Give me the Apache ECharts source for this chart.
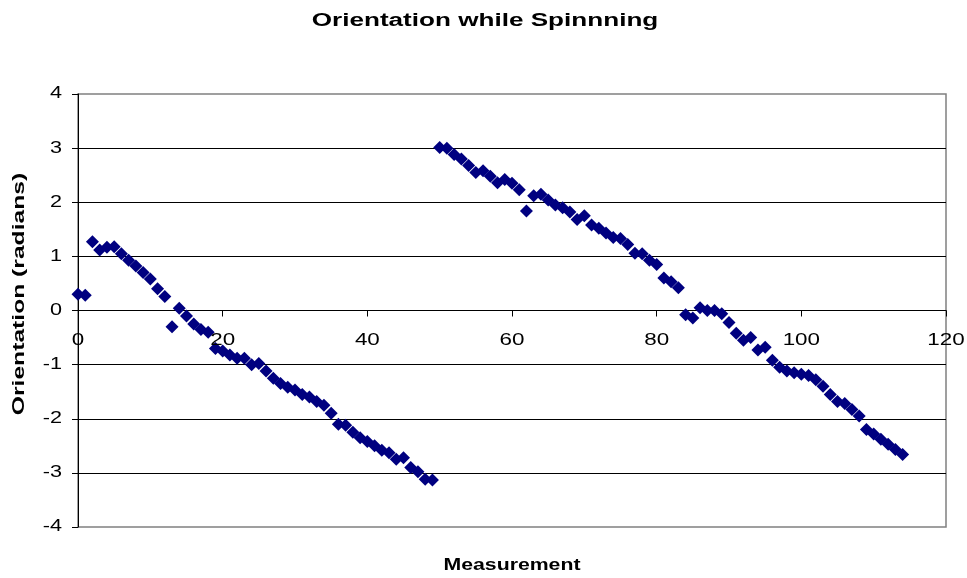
<!DOCTYPE html>
<html>
<head>
<meta charset="utf-8">
<script src="https://cdn.jsdelivr.net/npm/echarts@6/dist/echarts.min.js"></script>
<style>
  html, body { margin: 0; padding: 0; background: #fff; }
  #chart { width: 967px; height: 578px; }
</style>
</head>
<body>
<div id="chart"></div>
<script>
// Orientation readings (radians) for each measurement index
const measurements = [
  0, 1, 2, 3, 4, 5, 6, 7, 8, 9,
  10, 11, 12, 13, 14, 15, 16, 17, 18, 19,
  20, 21, 22, 23, 24, 25, 26, 27, 28, 29,
  30, 31, 32, 33, 34, 35, 36, 37, 38, 39,
  40, 41, 42, 43, 44, 45, 46, 47, 48, 49,
  50, 51, 52, 53, 54, 55, 56, 57, 58, 59,
  60, 61, 62, 63, 64, 65, 66, 67, 68, 69,
  70, 71, 72, 73, 74, 75, 76, 77, 78, 79,
  80, 81, 82, 83, 84, 85, 86, 87, 88, 89,
  90, 91, 92, 93, 94, 95, 96, 97, 98, 99,
  100, 101, 102, 103, 104, 105, 106, 107, 108, 109,
  110, 111, 112, 113, 114
];
const orientation = [
  0.30, 0.28, 1.27, 1.12, 1.17, 1.18, 1.05, 0.93, 0.82, 0.70,
  0.58, 0.40, 0.26, -0.30, 0.04, -0.10, -0.25, -0.35, -0.40, -0.70,
  -0.75, -0.82, -0.88, -0.88, -1.00, -0.98, -1.12, -1.25, -1.35, -1.42,
  -1.47, -1.55, -1.60, -1.68, -1.75, -1.90, -2.10, -2.12, -2.25, -2.35,
  -2.42, -2.50, -2.58, -2.63, -2.75, -2.72, -2.90, -2.98, -3.12, -3.13,
  3.01, 3.00, 2.88, 2.80, 2.68, 2.55, 2.58, 2.48, 2.36, 2.42,
  2.35, 2.23, 1.84, 2.12, 2.15, 2.04, 1.95, 1.90, 1.82, 1.68,
  1.75, 1.58, 1.52, 1.43, 1.35, 1.33, 1.22, 1.06, 1.05, 0.93,
  0.85, 0.60, 0.53, 0.42, -0.08, -0.14, 0.05, 0.00, 0.00, -0.06,
  -0.22, -0.42, -0.55, -0.50, -0.73, -0.68, -0.92, -1.05, -1.12, -1.15,
  -1.18, -1.20, -1.28, -1.40, -1.55, -1.68, -1.72, -1.83, -1.95, -2.20,
  -2.28, -2.38, -2.47, -2.57, -2.66
];

// Axis tick values
const xTicks = [0, 20, 40, 60, 80, 100, 120];
const yTicks = [-4, -3, -2, -1, 0, 1, 2, 3, 4];

const chartTitle = 'Orientation while Spinnning';
const xTitle = 'Measurement';
const yTitle = 'Orientation (radians)';

const points = measurements.map((m, i) => [m, orientation[i]]);
const font = 'Arial, "Liberation Sans", sans-serif';

const chart = echarts.init(document.getElementById('chart'), null, { renderer: 'canvas' });
chart.setOption({
  backgroundColor: '#ffffff',
  animation: false,
  grid: {
    left: 78, right: 21, top: 94, bottom: 51,
    show: true,
    backgroundColor: '#ffffff',
    borderColor: '#808080',
    borderWidth: 1.5
  },
  xAxis: {
    type: 'value',
    min: xTicks[0], max: xTicks[xTicks.length - 1], interval: 20,
    axisLine: { show: true, onZero: true, lineStyle: { color: '#000', width: 1 } },
    axisTick: { show: true, inside: false, length: 6, lineStyle: { color: '#000' } },
    axisLabel: { show: false },
    splitLine: { show: false }
  },
  yAxis: {
    type: 'value',
    min: yTicks[0], max: yTicks[yTicks.length - 1], interval: 1,
    axisLine: { show: true, onZero: false, lineStyle: { color: '#000', width: 1 } },
    axisTick: { show: true, inside: false, length: 6, lineStyle: { color: '#000' } },
    axisLabel: { show: false },
    splitLine: { show: true, showMinLine: false, showMaxLine: false, lineStyle: { color: '#000', width: 1 } }
  },
  series: [{
    type: 'scatter',
    data: points,
    symbol: 'diamond',
    symbolSize: 13,
    itemStyle: { color: '#000080', opacity: 1 },
    emphasis: { disabled: true }
  }]
});

// Text is set in a horizontally widened face, so each label carries a scaleX.
const labels = [];
xTicks.forEach(v => {
  const px = chart.convertToPixel({ xAxisIndex: 0 }, v);
  const py = chart.convertToPixel({ yAxisIndex: 0 }, 0);
  labels.push({
    type: 'text', x: px, y: py + 30, scaleX: 1.4, z: 10, silent: true,
    style: { text: String(v), font: '16px ' + font, fill: '#000', textAlign: 'center', textVerticalAlign: 'middle' }
  });
});
yTicks.forEach(v => {
  const px = chart.convertToPixel({ xAxisIndex: 0 }, 0);
  const py = chart.convertToPixel({ yAxisIndex: 0 }, v);
  labels.push({
    type: 'text', x: px - 16, y: py, scaleX: 1.35, z: 10, silent: true,
    style: { text: String(v), font: '16px ' + font, fill: '#000', textAlign: 'right', textVerticalAlign: 'middle' }
  });
});
labels.push({
  type: 'text', x: 485, y: 21, scaleX: 1.45, z: 10, silent: true,
  style: { text: chartTitle, font: 'bold 18px ' + font, fill: '#000', textAlign: 'center', textVerticalAlign: 'middle' }
});
labels.push({
  type: 'text', x: 512, y: 565, scaleX: 1.25, z: 10, silent: true,
  style: { text: xTitle, font: 'bold 17px ' + font, fill: '#000', textAlign: 'center', textVerticalAlign: 'middle' }
});
labels.push({
  type: 'text', x: 19, y: 294, rotation: Math.PI / 2, scaleX: 1.45, z: 10, silent: true,
  style: { text: yTitle, font: 'bold 17px ' + font, fill: '#000', textAlign: 'center', textVerticalAlign: 'middle' }
});
chart.setOption({ graphic: labels });
</script>
</body>
</html>
